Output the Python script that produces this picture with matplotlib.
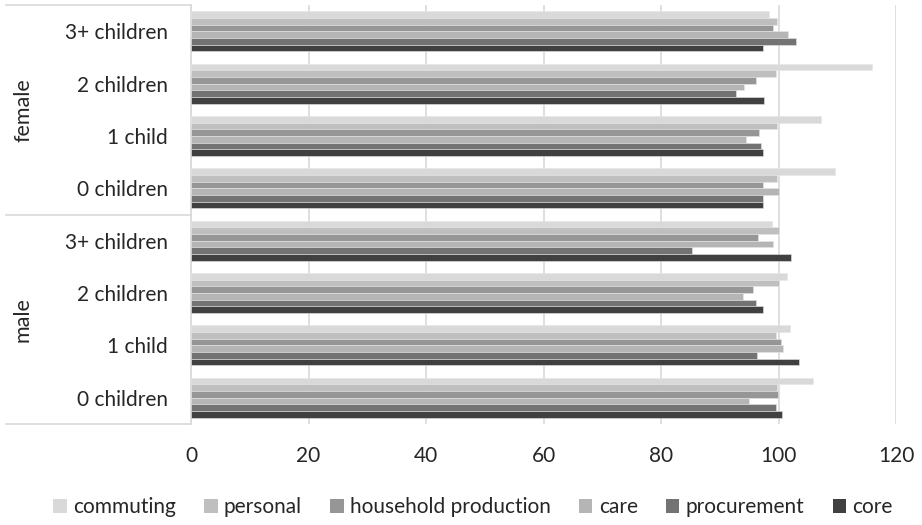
import matplotlib.pyplot as plt
from matplotlib.patches import Patch

plt.rcParams['font.family'] = ['Lato', 'DejaVu Sans']

# categories, top to bottom as they appear in the chart
groups = ["female", "male"]
children = ["3+ children", "2 children", "1 child", "0 children"]

series = ["commuting", "personal", "household production", "care", "procurement", "core"]
colors = ["#d9d9d9", "#bfbfbf", "#969696", "#b5b5b5", "#737373", "#404040"]

# values (female 3+, 2, 1, 0, male 3+, 2, 1, 0)
commuting = [98.4, 115.9, 107.3, 109.7, 98.9, 101.5, 101.9, 105.9]
personal = [99.8, 99.6, 99.7, 99.8, 100.0, 100.0, 99.5, 99.7]
household = [99.0, 96.1, 96.7, 97.4, 96.5, 95.7, 100.4, 99.9]
care = [101.6, 94.2, 94.4, 100.0, 99.0, 94.0, 100.7, 94.9]
procurement = [103.0, 92.7, 97.0, 97.4, 85.3, 96.2, 96.4, 99.5]
core = [97.3, 97.5, 97.4, 97.3, 102.1, 97.4, 103.5, 100.6]

data = [commuting, personal, household, care, procurement, core]
labels = children * len(groups)
n = len(labels)

W, H = 922, 525
fig = plt.figure(figsize=(W / 100, H / 100), dpi=100)
ax_left, ax_right, ax_top, ax_bot = 191, 896, 5, 424
ax = fig.add_axes([ax_left / W, 1 - ax_bot / H, (ax_right - ax_left) / W, (ax_bot - ax_top) / H])

h = 0.1275
ypos = [n - 1 - i for i in range(n)]
for k, (vals, c) in enumerate(zip(data, colors)):
    off = (2.5 - k) * h
    ax.barh([y + off for y in ypos], vals, height=h, color=c,
            edgecolor="#e6e6e6", linewidth=0.4, zorder=3)

ax.set_xlim(0, 120)
ax.set_ylim(-0.5, n - 0.5)
ax.set_xticks(range(0, 121, 20))
ax.grid(axis="x", color="#d9d9d9", linewidth=1.2, zorder=0)
for s in ["top", "right", "bottom"]:
    ax.spines[s].set_visible(False)
ax.spines["left"].set_color("#d9d9d9")
ax.spines["left"].set_linewidth(1.2)

txt = "#262626"
fs = 15
ax.set_yticks(ypos)
ax.set_yticklabels(labels, fontsize=fs, color=txt)
ax.tick_params(axis="y", length=0, pad=16.5)
ax.tick_params(axis="x", length=0, pad=16, labelsize=fs, labelcolor=txt)

# multi-level category axis: group separators and group names
for yy in [ax_top, 215, ax_bot]:
    fig.add_artist(plt.Line2D([6 / W, ax_left / W], [1 - yy / H, 1 - yy / H],
                              color="#d9d9d9", linewidth=1.2))
for g, yc in zip(groups, [110, 320]):
    fig.text(23 / W, 1 - yc / H, g, rotation=90, ha="center", va="center",
             fontsize=fs + 0.5, color=txt)

handles = [Patch(facecolor=c, edgecolor="none") for c in colors]
fig.legend(handles, series, loc="center", bbox_to_anchor=(0.513, 1 - 507 / H),
           ncol=6, frameon=False, fontsize=fs, labelcolor=txt,
           handlelength=0.65, handleheight=0.65, handletextpad=0.3, columnspacing=1.35)

fig.savefig("out.png", dpi=100)
